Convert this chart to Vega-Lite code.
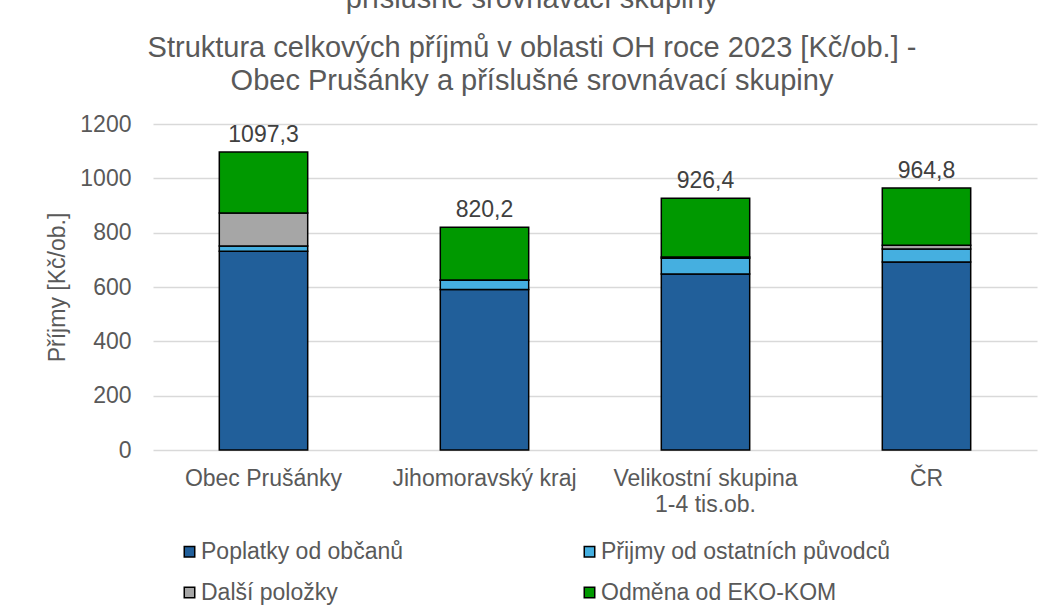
{
  "$schema": "https://vega.github.io/schema/vega-lite/v6.json",
  "autosize": "none",
  "width": 884,
  "height": 326,
  "padding": {"left": 153, "top": 124, "right": 6, "bottom": 165},
  "background": "white",
  "config": {
    "font": "Liberation Sans",
    "view": {"stroke": null},
    "locale": {"number": {"decimal": ",", "thousands": "", "grouping": [3], "currency": ["", " Kč"]}}
  },
  "title": {
    "text": "příslušné srovnávací skupiny",
    "subtitle": ["Struktura celkových příjmů v oblasti OH roce 2023 [Kč/ob.] -", "Obec Prušánky a příslušné srovnávací skupiny"],
    "fontSize": 29,
    "subtitleFontSize": 29,
    "font": "Liberation Sans",
    "subtitleFont": "Liberation Sans",
    "fontWeight": "normal",
    "color": "#595959",
    "subtitleColor": "#595959",
    "subtitleLineHeight": 33,
    "subtitlePadding": 20,
    "anchor": "middle",
    "dx": -63,
    "offset": 17
  },
  "data": {
    "values": [
      {"kategorie": "Obec Prušánky", "polozka": "Poplatky od občanů", "poradi": 1, "hodnota": 732},
      {"kategorie": "Obec Prušánky", "polozka": "Přijmy od ostatních původců", "poradi": 2, "hodnota": 19},
      {"kategorie": "Obec Prušánky", "polozka": "Další položky", "poradi": 3, "hodnota": 121},
      {"kategorie": "Obec Prušánky", "polozka": "Odměna od EKO-KOM", "poradi": 4, "hodnota": 225.3},
      {"kategorie": "Jihomoravský kraj", "polozka": "Poplatky od občanů", "poradi": 1, "hodnota": 590.5},
      {"kategorie": "Jihomoravský kraj", "polozka": "Přijmy od ostatních původců", "poradi": 2, "hodnota": 34.5},
      {"kategorie": "Jihomoravský kraj", "polozka": "Další položky", "poradi": 3, "hodnota": 0.7},
      {"kategorie": "Jihomoravský kraj", "polozka": "Odměna od EKO-KOM", "poradi": 4, "hodnota": 194.5},
      {"kategorie": "Velikostní skupina 1-4 tis.ob.", "polozka": "Poplatky od občanů", "poradi": 1, "hodnota": 648},
      {"kategorie": "Velikostní skupina 1-4 tis.ob.", "polozka": "Přijmy od ostatních původců", "poradi": 2, "hodnota": 57.5},
      {"kategorie": "Velikostní skupina 1-4 tis.ob.", "polozka": "Další položky", "poradi": 3, "hodnota": 4.5},
      {"kategorie": "Velikostní skupina 1-4 tis.ob.", "polozka": "Odměna od EKO-KOM", "poradi": 4, "hodnota": 216.4},
      {"kategorie": "ČR", "polozka": "Poplatky od občanů", "poradi": 1, "hodnota": 692},
      {"kategorie": "ČR", "polozka": "Přijmy od ostatních původců", "poradi": 2, "hodnota": 48},
      {"kategorie": "ČR", "polozka": "Další položky", "poradi": 3, "hodnota": 14},
      {"kategorie": "ČR", "polozka": "Odměna od EKO-KOM", "poradi": 4, "hodnota": 210.8}
    ]
  },
  "encoding": {
    "x": {
      "field": "kategorie",
      "type": "nominal",
      "sort": null,
      "scale": {"paddingInner": 0.6, "paddingOuter": 0.3},
      "axis": {
        "title": null,
        "labelAngle": 0,
        "domain": false,
        "ticks": false,
        "labelFontSize": 23,
        "labelColor": "#595959",
        "labelPadding": 17,
        "labelLineHeight": 26,
        "labelLimit": 400,
        "labelExpr": "datum.label == 'Velikostní skupina 1-4 tis.ob.' ? ['Velikostní skupina', '1-4 tis.ob.'] : datum.label"
      }
    }
  },
  "layer": [
    {
      "mark": {"type": "bar", "stroke": "#000000", "strokeWidth": 1.5},
      "encoding": {
        "y": {
          "field": "hodnota",
          "type": "quantitative",
          "stack": "zero",
          "scale": {"domain": [0, 1200]},
          "axis": {
            "title": "Příjmy [Kč/ob.]",
            "values": [0, 200, 400, 600, 800, 1000, 1200],
            "format": "d",
            "domain": false,
            "ticks": false,
            "gridColor": "#D9D9D9",
            "gridWidth": 1.3,
            "labelFontSize": 23,
            "labelColor": "#595959",
            "labelPadding": 22,
            "titleFontSize": 23,
            "titleFontWeight": "normal",
            "titleColor": "#595959",
            "titlePadding": 10
          }
        },
        "color": {
          "field": "polozka",
          "type": "nominal",
          "scale": {
            "domain": ["Poplatky od občanů", "Přijmy od ostatních původců", "Další položky", "Odměna od EKO-KOM"],
            "range": ["#215F9A", "#45AFE0", "#A6A6A6", "#009900"]
          },
          "legend": {
            "title": null,
            "orient": "none",
            "legendX": 25,
            "legendY": 416,
            "direction": "horizontal",
            "columns": 2,
            "columnPadding": 174,
            "rowPadding": 17,
            "symbolType": "square",
            "symbolSize": 110,
            "symbolStrokeColor": "#000000",
            "symbolStrokeWidth": 1.5,
            "symbolOpacity": 1,
            "labelFontSize": 23,
            "labelColor": "#595959",
            "labelOffset": 0,
            "labelLimit": 400
          }
        },
        "order": {"field": "poradi", "type": "quantitative"}
      }
    },
    {
      "transform": [
        {"aggregate": [{"op": "sum", "field": "hodnota", "as": "celkem"}], "groupby": ["kategorie"]}
      ],
      "mark": {"type": "text", "baseline": "alphabetic", "dy": -10, "fontSize": 23, "color": "#404040"},
      "encoding": {
        "y": {"field": "celkem", "type": "quantitative"},
        "text": {"field": "celkem", "type": "quantitative", "format": ".1f"}
      }
    }
  ]
}
